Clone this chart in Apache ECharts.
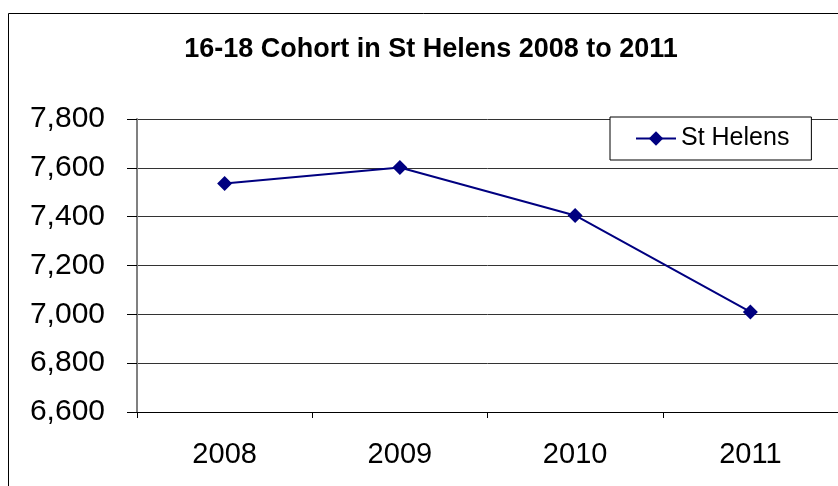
<!DOCTYPE html>
<html><head><meta charset="utf-8">
<script src="https://cdn.jsdelivr.net/npm/echarts@6/dist/echarts.min.js"></script>
<style>html,body{margin:0;padding:0;background:#fff}#c{width:838px;height:486px}</style>
</head><body><div id="c"></div>
<script>
const categories = ['2008', '2009', '2010', '2011'];
const stHelens = [7536, 7601, 7405, 7010];
const yTicks = [6600, 6800, 7000, 7200, 7400, 7600, 7800];

const chart = echarts.init(document.getElementById('c'), null, {renderer: 'canvas'});
const font = '"Liberation Sans", Arial, sans-serif';
chart.setOption({
  animation: false,
  backgroundColor: '#fff',
  graphic: [{
    type: 'rect', left: 6, top: 11, shape: {width: 850, height: 500},
    style: {fill: 'none', stroke: '#000', lineWidth: 1}, silent: true
  }],
  title: {
    text: '16-18 Cohort in St Helens 2008 to 2011',
    left: 426, top: 31, textAlign: 'center',
    textStyle: {fontFamily: font, fontWeight: 'bold', fontSize: 27, color: '#000'}
  },
  legend: {
    data: ['St Helens'],
    left: 610, top: 117, padding: [9, 22, 9, 25],
    backgroundColor: '#fff', borderColor: '#000', borderWidth: 1, borderRadius: 0,
    itemWidth: 40, itemHeight: 18,
    textStyle: {fontFamily: font, fontSize: 25, color: '#000'}
  },
  grid: {left: 137, top: 119, width: 710, height: 293, containLabel: false},
  xAxis: {
    type: 'category', data: categories, boundaryGap: true,
    axisLine: {lineStyle: {color: '#000', width: 1}},
    axisTick: {show: true, length: 6, lineStyle: {color: '#000'}},
    axisLabel: {fontFamily: font, fontSize: 29, color: '#000', margin: 28}
  },
  yAxis: {
    type: 'value', min: 6600, max: 7800, interval: 200,
    axisLine: {show: true, lineStyle: {color: '#808080', width: 2}},
    axisTick: {show: true, length: 10, lineStyle: {color: '#000'}},
    axisLabel: {fontFamily: font, fontSize: 30, color: '#000', margin: 32,
      formatter: v => v.toLocaleString('en-US')},
    splitLine: {lineStyle: {color: '#333', width: 1}}
  },
  series: [{
    name: 'St Helens', type: 'line', data: stHelens,
    symbol: 'diamond', symbolSize: 15,
    lineStyle: {color: '#000080', width: 2},
    itemStyle: {color: '#000080'}
  }]
});
</script></body></html>
